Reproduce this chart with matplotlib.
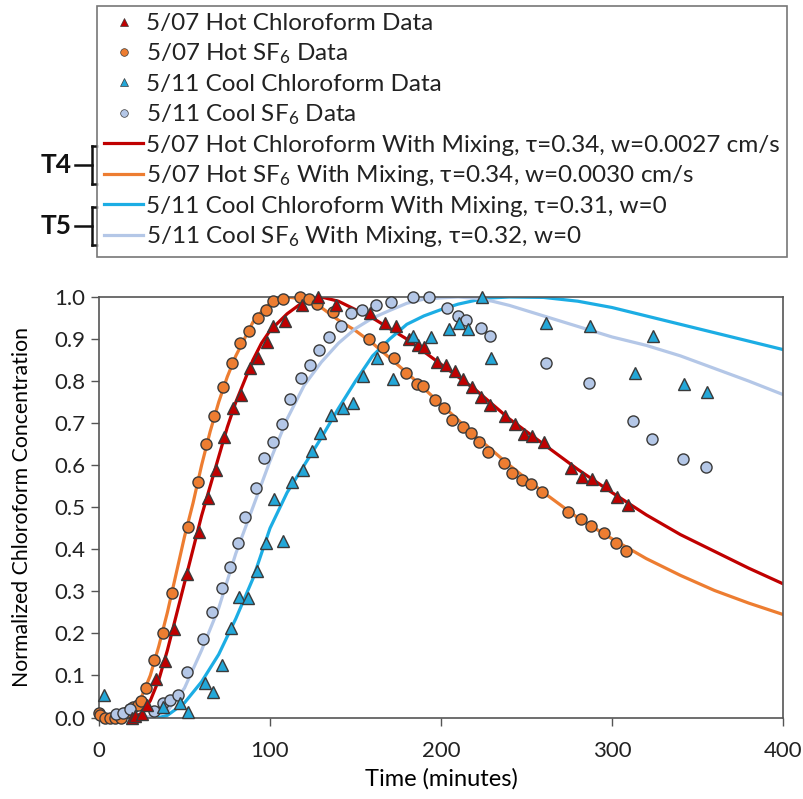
import matplotlib

matplotlib.use("Agg")
import matplotlib.pyplot as plt
from matplotlib.lines import Line2D

# ---- data ----
hot_cf_t = [19.3, 21, 25.1, 28, 33.3, 38.5, 43.8, 51.4, 58.4, 63.6, 68.3, 73, 78.2, 82.9,
            88.2, 92.8, 98.1, 101.6, 108.6, 118.5, 127.9, 138.4, 158.2, 167, 173.4, 181,
            186.3, 189.8, 197.4, 203.2, 207.9, 213.1, 218.4, 223.6, 228.9, 237.7, 243.5,
            248.8, 253.4, 260.4, 276.2, 282.6, 288.5, 296.6, 303.1, 309.5]
hot_cf_c = [0.0, 0.004, 0.008, 0.03, 0.092, 0.135, 0.211, 0.342, 0.442, 0.523, 0.589, 0.668,
            0.737, 0.768, 0.832, 0.854, 0.894, 0.93, 0.942, 0.982, 1.0, 0.982, 0.963, 0.937,
            0.93, 0.899, 0.887, 0.88, 0.846, 0.839, 0.825, 0.804, 0.787, 0.763, 0.742, 0.716,
            0.699, 0.675, 0.67, 0.654, 0.594, 0.573, 0.568, 0.554, 0.525, 0.506]

hot_sf_t = [0.0, 0.6, 3.5, 6.4, 9.3, 12.8, 16.3, 18.1, 19.9, 22.8, 24.5, 27.4, 32, 37.4, 42.6,
            52, 57.8, 62.5, 67, 72.4, 77.7, 82.3, 87.6, 92.8, 97.5, 101.6, 107.4, 117.4, 122.6,
            127.3, 136.6, 157.7, 165.8, 172.8, 179.8, 185.7, 189.2, 196.2, 202, 206.7, 212.6,
            217.8, 222.5, 227.7, 237, 241.8, 247.6, 252.8, 259.3, 274.5, 282, 287.9, 295.5,
            302.5, 308.3]
hot_sf_c = [0.01, 0.006, 0.0, 0.0, 0.0, 0.0, 0.013, 0.02, 0.025, 0.03, 0.04, 0.07, 0.137, 0.201,
            0.296, 0.454, 0.56, 0.65, 0.716, 0.787, 0.843, 0.891, 0.92, 0.95, 0.968, 0.99, 0.996,
            1.0, 0.995, 0.983, 0.964, 0.899, 0.88, 0.854, 0.82, 0.794, 0.789, 0.756, 0.737,
            0.708, 0.692, 0.677, 0.656, 0.632, 0.606, 0.582, 0.565, 0.556, 0.537, 0.489, 0.473,
            0.456, 0.439, 0.415, 0.396]

cool_cf_t = [2.9, 37.4, 47.3, 52, 61.9, 66.6, 71.8, 77.1, 81.8, 87, 92.3, 97.5, 102.2, 107.4,
             112.7, 119.1, 124.4, 129, 135.5, 142.5, 148.3, 154.2, 162.3, 171.7, 183.4, 193.9,
             204.4, 210.8, 215.5, 224.2, 229.5, 261.6, 287.3, 313.6, 324.1, 342.2, 355.6]
cool_cf_c = [0.054, 0.025, 0.035, 0.013, 0.082, 0.061, 0.125, 0.213, 0.287, 0.285, 0.349, 0.415,
             0.52, 0.42, 0.561, 0.589, 0.634, 0.677, 0.72, 0.737, 0.749, 0.811, 0.856, 0.804,
             0.908, 0.904, 0.923, 0.937, 0.923, 0.999, 0.856, 0.937, 0.93, 0.82, 0.908, 0.792,
             0.773]

cool_sf_t = [10, 14, 18, 32.1, 37.4, 41.5, 46.1, 51.4, 60.7, 66, 71.8, 76.5, 81.2, 85.3, 91.7,
             96.4, 101.6, 106.9, 111.5, 118, 123.2, 128.5, 134.3, 141.3, 147.2, 153.6, 161.8,
             170.5, 183.4, 192.7, 203.8, 210.2, 214.9, 223.6, 228.9, 261.6, 286.7, 312.4, 323.5,
             341.6, 355]
cool_sf_c = [0.008, 0.01, 0.02, 0.015, 0.035, 0.042, 0.054, 0.108, 0.187, 0.251, 0.308, 0.358,
             0.415, 0.477, 0.546, 0.618, 0.656, 0.699, 0.758, 0.808, 0.839, 0.873, 0.904, 0.93,
             0.961, 0.97, 0.98, 0.989, 1.0, 1.0, 0.975, 0.954, 0.946, 0.927, 0.908, 0.844, 0.796,
             0.706, 0.663, 0.615, 0.596]

# model curves (sampled from the drawn lines)
hot_cf_fit_t = [0, 20, 25, 30, 35, 40, 45, 50, 55, 60, 65, 70, 75, 80, 85, 90, 95, 100, 110,
                120, 130, 140, 150, 160, 180, 200, 220, 240, 260, 280, 300, 320, 340, 360, 380, 400]
hot_cf_fit_c = [0, 0.0, 0.01, 0.04, 0.09, 0.16, 0.24, 0.32, 0.4, 0.48, 0.55, 0.62, 0.69, 0.75,
                0.8, 0.85, 0.89, 0.92, 0.96, 0.99, 1.0, 0.99, 0.97, 0.95, 0.9, 0.84, 0.78, 0.71,
                0.65, 0.59, 0.535, 0.482, 0.435, 0.395, 0.355, 0.318]

hot_sf_fit_t = [0, 15, 20, 25, 30, 35, 40, 45, 50, 55, 60, 65, 70, 75, 80, 85, 90, 95, 100, 110,
                120, 130, 140, 150, 160, 180, 200, 220, 240, 260, 280, 300, 320, 340, 360, 380, 400]
hot_sf_fit_c = [0, 0.0, 0.02, 0.05, 0.1, 0.17, 0.25, 0.34, 0.43, 0.51, 0.6, 0.68, 0.75, 0.81,
                0.86, 0.9, 0.94, 0.965, 0.985, 1.0, 0.995, 0.975, 0.945, 0.92, 0.89, 0.82, 0.745,
                0.67, 0.6, 0.535, 0.475, 0.425, 0.378, 0.338, 0.302, 0.272, 0.245]

cool_cf_fit_t = [35, 40, 50, 60, 70, 80, 90, 100, 110, 120, 130, 140, 150, 160, 170, 180, 190,
                 200, 210, 220, 230, 240, 260, 280, 300, 320, 340, 360, 380, 400]
cool_cf_fit_c = [0.0, 0.005, 0.035, 0.085, 0.15, 0.235, 0.33, 0.45, 0.535, 0.6, 0.665, 0.735,
                 0.8, 0.86, 0.9, 0.935, 0.955, 0.97, 0.983, 0.992, 0.998, 1.0, 0.999, 0.99,
                 0.975, 0.955, 0.935, 0.915, 0.895, 0.875]

cool_sf_fit_t = [25, 30, 40, 50, 60, 70, 80, 90, 100, 110, 120, 130, 140, 150, 160, 170, 180,
                 190, 200, 210, 220, 230, 240, 260, 280, 300, 320, 340, 360, 380, 400]
cool_sf_fit_c = [0.0, 0.002, 0.015, 0.07, 0.16, 0.26, 0.39, 0.5, 0.61, 0.71, 0.79, 0.845, 0.89,
                 0.925, 0.95, 0.968, 0.985, 0.995, 0.998, 1.0, 0.997, 0.99, 0.98, 0.955, 0.93,
                 0.905, 0.885, 0.86, 0.83, 0.8, 0.768]

RED = "#C00000"
ORANGE = "#ED7D31"
CYAN = "#1CADE4"
CYAN_MK = "#23A7D8"
LIGHT = "#B4C7E7"
EDGE = "#3A3A3A"
FONT = "Lato"

plt.rcParams.update({
    "font.family": FONT,
    "mathtext.fontset": "custom",
    "mathtext.rm": FONT,
    "mathtext.it": FONT,
    "text.color": "#222222",
})

fig = plt.figure(figsize=(8.04, 7.99), dpi=100)
ax = fig.add_axes([99 / 804, 1 - 717.5 / 799, 684 / 804, 420.5 / 799])

lw = 2.3
ax.plot(hot_cf_fit_t, hot_cf_fit_c, color=RED, lw=lw, zorder=2)
ax.plot(hot_sf_fit_t, hot_sf_fit_c, color=ORANGE, lw=lw, zorder=2)
ax.plot(cool_cf_fit_t, cool_cf_fit_c, color=CYAN, lw=lw, zorder=2)
ax.plot(cool_sf_fit_t, cool_sf_fit_c, color=LIGHT, lw=lw, zorder=2)

ms = 8
mk = dict(ms=ms, mec=EDGE, mew=1.0, ls="", clip_on=False)
ax.plot(hot_sf_t, hot_sf_c, marker="o", mfc=ORANGE, zorder=3, **mk)
ax.plot(cool_sf_t, cool_sf_c, marker="o", mfc=LIGHT, zorder=3, **mk)
ax.plot(hot_cf_t, hot_cf_c, marker="^", mfc=RED, zorder=4, **mk)
ax.plot(cool_cf_t, cool_cf_c, marker="^", mfc=CYAN_MK, zorder=4, **mk)

ax.set_xlim(0, 400)
ax.set_ylim(0, 1.0)
ax.set_xticks([0, 100, 200, 300, 400])
ax.set_yticks([i / 10 for i in range(11)])
ax.set_yticklabels([f"{i / 10:.1f}" for i in range(11)])
ax.tick_params(direction="out", length=6, width=1.0, color="#555555", labelsize=16,
               labelcolor="#222222")
ax.tick_params(axis="x", pad=11)
ax.tick_params(axis="y", pad=4)
for s in ax.spines.values():
    s.set_color("#555555")
    s.set_linewidth(1.2)
ax.set_xlabel("Time (minutes)", fontsize=17, labelpad=5)
ax.set_ylabel("Normalized Chloroform Concentration", fontsize=15.3, labelpad=16)

# legend
handles = [
    Line2D([], [], ls="", marker="^", ms=6, mfc=RED, mec=EDGE, mew=0.5),
    Line2D([], [], ls="", marker="o", ms=5.5, mfc=ORANGE, mec=EDGE, mew=0.5),
    Line2D([], [], ls="", marker="^", ms=6, mfc=CYAN_MK, mec=EDGE, mew=0.5),
    Line2D([], [], ls="", marker="o", ms=5.5, mfc=LIGHT, mec=EDGE, mew=0.5),
    Line2D([], [], color=RED, lw=2.3),
    Line2D([], [], color=ORANGE, lw=2.3),
    Line2D([], [], color=CYAN, lw=2.3),
    Line2D([], [], color=LIGHT, lw=2.3),
]
labels = [
    "5/07 Hot Chloroform Data",
    "5/07 Hot SF$_6$ Data",
    "5/11 Cool Chloroform Data",
    "5/11 Cool SF$_6$ Data",
    "5/07 Hot Chloroform With Mixing, \u03c4=0.34, w=0.0027 cm/s",
    "5/07 Hot SF$_6$ With Mixing, \u03c4=0.34, w=0.0030 cm/s",
    "5/11 Cool Chloroform With Mixing, \u03c4=0.31, w=0",
    "5/11 Cool SF$_6$ With Mixing, \u03c4=0.32, w=0",
]
leg = fig.legend(handles, labels, loc="upper left", bbox_to_anchor=(97 / 804, 1 - 6 / 799),
                 fontsize=17.5, frameon=True, fancybox=False, borderaxespad=0,
                 handlelength=1.6, handletextpad=0.1, labelspacing=0.31, borderpad=0.3)
fr = leg.get_frame()
fr.set_edgecolor("#555555")
fr.set_linewidth(1.2)

# T4 / T5 brackets
def bracket(y_top, y_bot, label):
    x = 92 / 804
    yt = 1 - y_top / 799
    yb = 1 - y_bot / 799
    ym = (yt + yb) / 2
    kw = dict(color="#111111", lw=1.8, transform=fig.transFigure)
    fig.add_artist(Line2D([x, x], [yb, yt], **kw))
    fig.add_artist(Line2D([x, x + 5 / 804], [yt, yt], **kw))
    fig.add_artist(Line2D([x, x + 5 / 804], [yb, yb], **kw))
    fig.add_artist(Line2D([x - 17 / 804, x], [ym, ym], **kw))
    fig.text(x - 20 / 804, ym, label, ha="right", va="center", fontsize=19,
             fontweight="bold", color="#111111")

bracket(146, 184, "T4")
bracket(207, 245, "T5")

fig.savefig("out.png", dpi=100)
